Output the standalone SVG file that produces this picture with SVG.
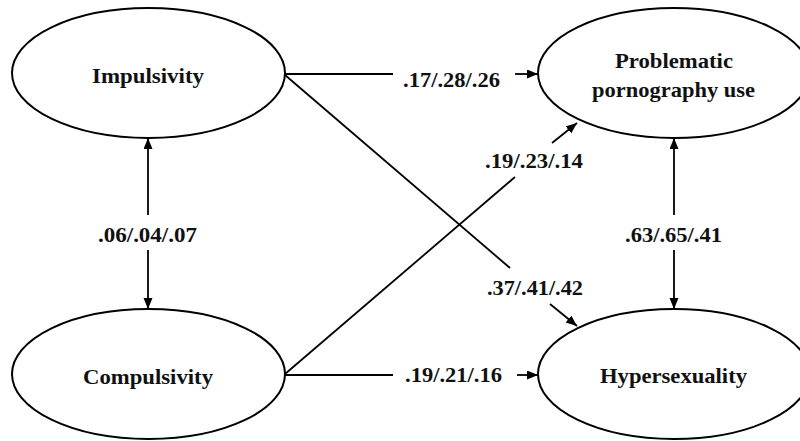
<svg xmlns="http://www.w3.org/2000/svg" width="800" height="441" viewBox="0 0 800 441">
<style>
.node ellipse{fill:#fff;stroke:#000;stroke-width:2}
.t{font-family:"Liberation Serif","Times New Roman",serif;font-weight:bold;font-size:22px;fill:#111;text-anchor:middle}
.c line{stroke:#000;stroke-width:1.8}
</style>
<defs>
<marker id="ah" markerUnits="userSpaceOnUse" markerWidth="12" markerHeight="10" refX="11" refY="4.5" orient="auto-start-reverse">
<path d="M0,0 L11,4.5 L0,9 z" fill="#000"/>
</marker>
</defs>
<rect width="800" height="441" fill="#fff"/>
<g id="connectors" class="c">
<line x1="285" y1="74" x2="393" y2="74"/>
<line x1="515" y1="74" x2="538" y2="74" marker-end="url(#ah)"/>
<line x1="285" y1="375" x2="393" y2="375"/>
<line x1="517" y1="375" x2="538" y2="375" marker-end="url(#ah)"/>
<line x1="285" y1="75" x2="510" y2="268"/>
<line x1="550" y1="304" x2="577" y2="326" marker-end="url(#ah)"/>
<line x1="285" y1="374" x2="515" y2="177"/>
<line x1="552" y1="143" x2="577" y2="123" marker-end="url(#ah)"/>
<line x1="148" y1="215" x2="148" y2="138" marker-end="url(#ah)"/>
<line x1="148" y1="250" x2="148" y2="309" marker-end="url(#ah)"/>
<line x1="674" y1="215" x2="674" y2="138" marker-end="url(#ah)"/>
<line x1="674" y1="250" x2="674" y2="309" marker-end="url(#ah)"/>
<text class="t" x="451.5" y="87" textLength="97" lengthAdjust="spacingAndGlyphs">.17/.28/.26</text>
<text class="t" x="534" y="168" textLength="98" lengthAdjust="spacingAndGlyphs">.19/.23/.14</text>
<text class="t" x="147.5" y="242" textLength="99" lengthAdjust="spacingAndGlyphs">.06/.04/.07</text>
<text class="t" x="673.5" y="242" textLength="97" lengthAdjust="spacingAndGlyphs">.63/.65/.41</text>
<text class="t" x="535" y="295" textLength="96" lengthAdjust="spacingAndGlyphs">.37/.41/.42</text>
<text class="t" x="453.5" y="382" textLength="97" lengthAdjust="spacingAndGlyphs">.19/.21/.16</text>
</g>
<g id="impulsivity" class="node">
<ellipse cx="148.5" cy="73" rx="136.5" ry="65"/>
<text class="t" x="148" y="83" textLength="112" lengthAdjust="spacingAndGlyphs">Impulsivity</text>
</g>
<g id="compulsivity" class="node">
<ellipse cx="148.5" cy="374" rx="136.5" ry="65"/>
<text class="t" x="148" y="384" textLength="130" lengthAdjust="spacingAndGlyphs">Compulsivity</text>
</g>
<g id="problematic" class="node">
<ellipse cx="674" cy="73" rx="136" ry="65"/>
<text class="t" x="674" y="68" textLength="118" lengthAdjust="spacingAndGlyphs">Problematic</text>
<text class="t" x="673.5" y="97" textLength="163" lengthAdjust="spacingAndGlyphs">pornography use</text>
</g>
<g id="hypersexuality" class="node">
<ellipse cx="674" cy="374" rx="136" ry="65"/>
<text class="t" x="673.5" y="383" textLength="147" lengthAdjust="spacingAndGlyphs">Hypersexuality</text>
</g>
</svg>
